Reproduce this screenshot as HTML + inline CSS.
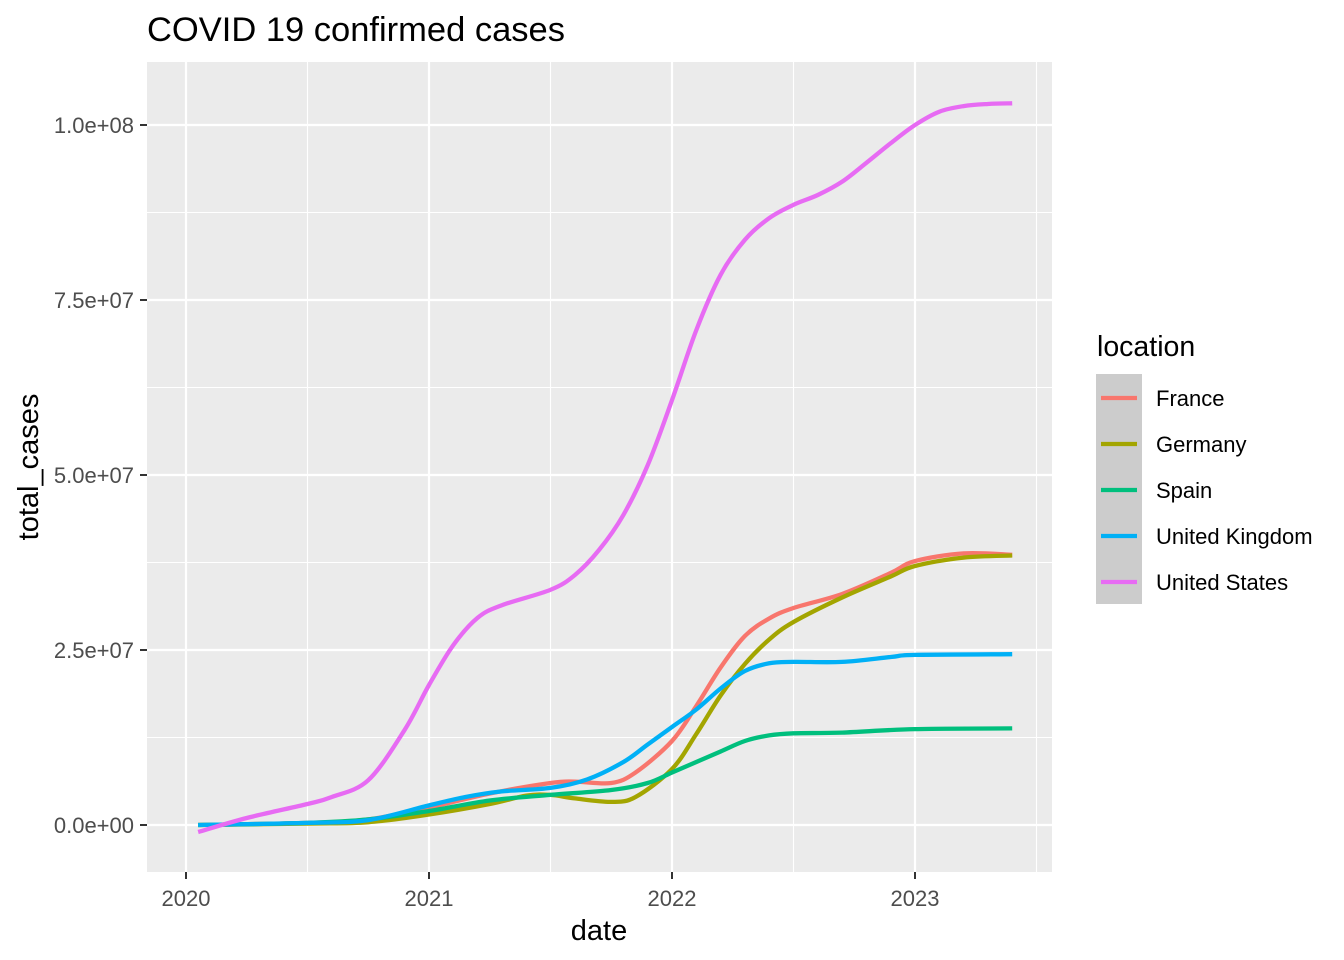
<!DOCTYPE html>
<html><head><meta charset="utf-8"><style>
body{margin:0;background:#fff;}
svg{display:block;font-family:"Liberation Sans",Arial,sans-serif;}
</style></head><body>
<svg id="chart" width="1344" height="960" viewBox="0 0 1344 960">
<text x="147" y="41" font-size="34.5" fill="#000">COVID 19 confirmed cases</text>
<rect x="147" y="62" width="905" height="810" fill="#EBEBEB"/>
<g id="grid"></g>
<g id="series"></g>
<g id="axes"></g>
<text x="599" y="940" font-size="29" text-anchor="middle">date</text>
<text transform="translate(38,467) rotate(-90)" font-size="29" text-anchor="middle">total_cases</text>
<g id="legend">
<text x="1097" y="356" font-size="28.5">location</text>
<rect x="1096" y="374" width="46" height="230" fill="#CCCCCC"/>
</g>
</svg>
<script>
const yearTicks=[2020,2021,2022,2023];
const yTicks=[0,25e6,50e6,75e6,100e6];
const yTickLabels=["0.0e+00","2.5e+07","5.0e+07","7.5e+07","1.0e+08"];
const seriesNames=["France","Germany","Spain","United Kingdom","United States"];
const seriesColors=["#F8766D","#A3A500","#00BF7D","#00B0F6","#E76BF3"];
const xFrance=[2020.05,2020.5,2020.75,2021.0,2021.25,2021.5,2021.6,2021.75,2021.85,2022.0,2022.1,2022.2,2022.3,2022.4,2022.5,2022.7,2022.9,2023.0,2023.2,2023.4];
const vFrance=[0,0.3,0.8,2.5,4.5,6,6.2,6,7.5,12,17,22.5,27,29.5,31,33,36,37.7,38.8,38.6];
const xGermany=[2020.05,2020.5,2020.75,2021.0,2021.25,2021.4,2021.5,2021.6,2021.75,2021.85,2022.0,2022.1,2022.2,2022.3,2022.4,2022.5,2022.7,2022.9,2023.0,2023.2,2023.4];
const vGermany=[0,0.2,0.4,1.5,3,4.2,4.3,3.8,3.3,4,8,13,18.5,23,26.5,29,32.5,35.5,37,38.2,38.5];
const xSpain=[2020.05,2020.5,2020.75,2021.0,2021.25,2021.5,2021.75,2021.9,2022.0,2022.1,2022.2,2022.3,2022.4,2022.5,2022.7,2023.0,2023.4];
const vSpain=[0,0.3,0.8,2,3.5,4.3,5,6,7.5,9,10.5,12,12.8,13.1,13.2,13.7,13.8];
const xUK=[2020.05,2020.5,2020.75,2021.0,2021.15,2021.3,2021.5,2021.65,2021.8,2021.9,2022.0,2022.1,2022.2,2022.3,2022.4,2022.5,2022.7,2022.9,2023.0,2023.4];
const vUK=[0,0.3,0.7,2.8,4,4.8,5.3,6.5,9,11.5,14,16.5,19.5,22,23.1,23.3,23.3,24,24.3,24.4];
const xUS=[2020.05,2020.25,2020.5,2020.6,2020.75,2020.9,2021.0,2021.1,2021.2,2021.3,2021.5,2021.6,2021.7,2021.8,2021.9,2022.0,2022.1,2022.2,2022.3,2022.4,2022.5,2022.6,2022.7,2022.8,2022.9,2023.0,2023.1,2023.2,2023.3,2023.4];
const vUS=[-1,1,3,4,6.4,13.6,20,25.7,29.6,31.4,33.6,35.7,39.3,44.3,51.4,60.7,70.7,78.6,83.6,86.7,88.6,90,91.9,94.6,97.4,100,101.9,102.7,103,103.1];
const seriesX=[xFrance,xGermany,xSpain,xUK,xUS];
const seriesV=[vFrance,vGermany,vSpain,vUK,vUS];

const NS="http://www.w3.org/2000/svg";
const X=t=>186+(t-2020)*243;
const Y=v=>825-v*7e-6;
function mk(tag,attrs,parent){const e=document.createElementNS(NS,tag);for(const k in attrs)e.setAttribute(k,attrs[k]);parent.appendChild(e);return e;}
const grid=document.getElementById('grid'),axes=document.getElementById('axes'),ser=document.getElementById('series'),leg=document.getElementById('legend');
for(let i=0;i<yTicks.length-1;i++){const v=(yTicks[i]+yTicks[i+1])/2;
 const l=mk('line',{x1:147,x2:1052,y1:Y(v),y2:Y(v),stroke:'#fff','stroke-width':1.1},grid);
 }
for(let i=0;i<yearTicks.length;i++){const t=yearTicks[i]+0.5;
 const l=mk('line',{x1:X(t),x2:X(t),y1:62,y2:872,stroke:'#fff','stroke-width':1.1},grid);
 }
{const l=mk('line',{x1:X(2019.5),x2:X(2019.5),y1:62,y2:872,stroke:'#fff','stroke-width':1.1},grid);
 }
yTicks.forEach((v,i)=>{
 const l=mk('line',{x1:147,x2:1052,y1:Y(v),y2:Y(v),stroke:'#fff','stroke-width':2.2},grid);
 
 const tk=mk('line',{x1:140,x2:147,y1:Y(v),y2:Y(v),stroke:'#333','stroke-width':2},axes);
 
 const tx=mk('text',{x:134,y:Y(v)+8,'font-size':22,'text-anchor':'end',fill:'#4D4D4D'},axes);
 tx.textContent=yTickLabels[i];
 
});
yearTicks.forEach(t=>{
 const l=mk('line',{x1:X(t),x2:X(t),y1:62,y2:872,stroke:'#fff','stroke-width':2.2},grid);
 
 const tk=mk('line',{x1:X(t),x2:X(t),y1:872,y2:879,stroke:'#333','stroke-width':2},axes);
 
 const tx=mk('text',{x:X(t),y:906,'font-size':22,'text-anchor':'middle',fill:'#4D4D4D'},axes);
 tx.textContent=String(t);
 
});
function smooth(pts){let d=`M${pts[0][0]},${pts[0][1]}`;
 for(let i=0;i<pts.length-1;i++){const p0=pts[Math.max(0,i-1)],p1=pts[i],p2=pts[i+1],p3=pts[Math.min(pts.length-1,i+2)];
  const c1=[p1[0]+(p2[0]-p0[0])/6,p1[1]+(p2[1]-p0[1])/6],c2=[p2[0]-(p3[0]-p1[0])/6,p2[1]-(p3[1]-p1[1])/6];
  d+=`C${c1[0]},${c1[1]} ${c2[0]},${c2[1]} ${p2[0]},${p2[1]}`;}
 return d;}
seriesNames.forEach((n,i)=>{
 const pts=seriesX[i].map((t,j)=>[X(t),Y(seriesV[i][j]*1e6)]);
 const p=mk('path',{d:smooth(pts),fill:'none',stroke:seriesColors[i],'stroke-width':4.3,'stroke-linejoin':'round'},ser);
 
 
 const y=398+i*46;
 const kl=mk('line',{x1:1101,x2:1137,y1:y,y2:y,stroke:seriesColors[i],'stroke-width':4.3},leg);
 
 const lt=mk('text',{x:1156,y:y+8,'font-size':22,fill:'#000'},leg);
 lt.textContent=n;
 
});
</script>
</body></html>
